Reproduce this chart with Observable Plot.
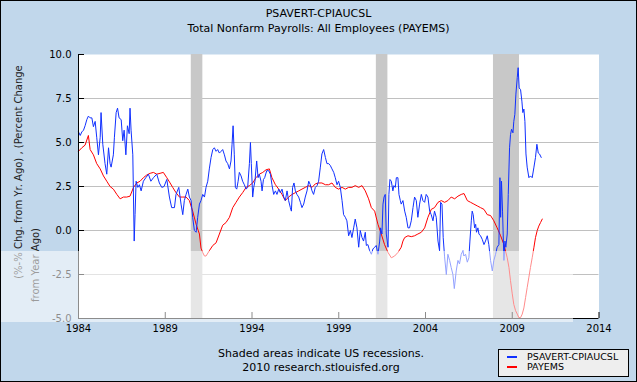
<!DOCTYPE html>
<html><head><meta charset="utf-8">
<script src="https://cdn.jsdelivr.net/npm/d3@7"></script>
<script src="https://cdn.jsdelivr.net/npm/@observablehq/plot@0.6"></script>
<style>
body{margin:0;background:#fff;}
#wrap{position:relative;width:637px;height:382px;background:#c1d7eb;overflow:hidden;font-family:"DejaVu Sans",Verdana,sans-serif;color:#000;}
#chart{position:absolute;left:0;top:0;}
.abs{position:absolute;white-space:nowrap;}
#title{left:0;top:6px;width:637px;text-align:center;font-size:11px;line-height:15px;}
#caption{left:121px;top:346.75px;width:400px;text-align:center;font-size:11px;line-height:14.5px;}
.ylab{font-size:10px;transform:translate(-50%,-50%) rotate(-90deg);color:#222;}
#legend{left:498px;top:349px;width:131px;height:28px;box-sizing:border-box;border:1px solid #000;background:#eeeeee;font-size:9.5px;}
.li{position:absolute;left:8px;height:10px;line-height:10px;}
.sw{display:inline-block;width:10px;height:2px;vertical-align:middle;margin-right:10px;position:relative;top:-1px;}
#wm{left:0;top:251px;width:573px;height:71px;background:rgba(255,255,255,0.55);}
#border{left:0;top:0;width:637px;height:382px;box-sizing:border-box;border:1px solid #000;}
</style></head>
<body>
<div id="wrap">
  <div id="chart"></div>
  <div class="abs" id="title">PSAVERT-CPIAUCSL<br>Total Nonfarm Payrolls: All Employees (PAYEMS)</div>
  <div class="abs ylab" style="left:17.5px;top:171.5px;">(%-% Chg. from Yr. Ago) , (Percent Change</div>
  <div class="abs ylab" style="left:34.5px;top:264.5px;">from Year Ago)</div>
  <div class="abs" id="caption">Shaded areas indicate US recessions.<br>2010 research.stlouisfed.org</div>
  <div class="abs" id="legend">
    <div class="li" style="top:2px;"><span class="sw" style="background:#1030ff"></span>PSAVERT-CPIAUCSL</div>
    <div class="li" style="top:12px;"><span class="sw" style="background:#ff0000"></span>PAYEMS</div>
  </div>
  <div class="abs" id="wm"></div>
  <div class="abs" id="border"></div>
</div>
<script>
// Series names
const seriesNames = ["PSAVERT-CPIAUCSL", "PAYEMS"];
// Tick labels
const xTicks = [1984, 1989, 1994, 1999, 2004, 2009, 2014];
const yTicks = [-5, -2.5, 0, 2.5, 5, 7.5, 10];
const gridTicks = [-2.5, 0, 2.5, 5, 7.5];
// Recessions (start, end) in decimal years
const recStart = [1990.5, 2001.167, 2007.917];
const recEnd = [1991.167, 2001.833, 2009.417];

// PSAVERT-CPIAUCSL (blue)
const blueYears = [1984.00,1984.10,1984.19,1984.29,1984.38,1984.48,1984.57,1984.67,1984.77,1984.86,1984.96,1985.05,1985.15,1985.25,1985.30,1985.40,1985.53,1985.63,1985.73,1985.82,1985.88,1986.01,1986.07,1986.17,1986.25,1986.34,1986.46,1986.55,1986.63,1986.73,1986.82,1986.92,1986.97,1987.03,1987.13,1987.21,1987.26,1987.32,1987.42,1987.51,1987.61,1987.74,1987.88,1988.03,1988.17,1988.32,1988.51,1988.66,1988.80,1988.93,1989.09,1989.24,1989.37,
1989.53,1989.62,1989.78,1989.91,1990.01,1990.10,1990.20,1990.30,1990.39,1990.49,1990.58,1990.68,1990.78,1990.87,1990.97,1991.06,1991.16,1991.26,1991.35,1991.45,1991.54,1991.64,1991.74,1991.83,1991.93,1992.02,1992.12,1992.22,1992.31,1992.41,1992.50,1992.60,1992.70,1992.79,1992.85,1992.91,1992.98,1993.04,1993.12,1993.20,1993.27,1993.37,1993.46,1993.56,1993.66,1993.75,1993.85,1993.91,1993.96,1994.04,1994.10,1994.17,1994.27,1994.35,1994.42,1994.52,1994.58,1994.66,1994.73,1994.85,1994.96,
1995.06,1995.15,1995.25,1995.35,1995.44,1995.54,1995.63,1995.73,1995.83,1995.92,1996.02,1996.11,1996.21,1996.27,1996.34,1996.42,1996.50,1996.59,1996.69,1996.79,1996.88,1996.98,1997.07,1997.17,1997.27,1997.36,1997.46,1997.55,1997.65,1997.75,1997.84,1997.94,1998.03,1998.13,1998.23,1998.32,1998.42,1998.51,1998.61,1998.71,1998.80,1998.90,1998.99,1999.09,1999.19,1999.28,1999.38,1999.47,1999.57,1999.67,1999.76,1999.86,1999.95,2000.05,2000.15,2000.24,2000.34,2000.43,
2000.53,2000.59,2000.68,2000.78,2000.88,2000.97,2001.07,2001.16,2001.26,2001.36,2001.41,2001.49,2001.55,2001.61,2001.68,2001.74,2001.84,2001.89,2001.95,2002.03,2002.12,2002.18,2002.26,2002.32,2002.41,2002.47,2002.55,2002.60,2002.70,2002.80,2002.89,2002.99,2003.08,2003.18,2003.28,2003.37,2003.47,2003.56,2003.66,2003.76,2003.85,2003.95,2004.04,2004.14,2004.24,2004.33,2004.43,2004.52,2004.62,2004.72,2004.81,2004.87,2004.95,2005.02,2005.10,2005.20,2005.29,2005.39,2005.48,2005.58,2005.66,2005.77,2005.87,2005.96,
2006.06,2006.16,2006.21,2006.31,2006.41,2006.50,2006.56,2006.64,2006.69,2006.75,2006.83,2006.89,2006.94,2007.02,2007.08,2007.17,2007.27,2007.37,2007.46,2007.56,2007.65,2007.75,2007.85,2007.94,2008.04,2008.13,2008.23,2008.29,2008.33,2008.38,2008.44,2008.52,2008.58,2008.63,2008.71,2008.77,2008.845,2008.90,2008.96,2009.04,2009.09,2009.15,2009.21,2009.29,2009.34,2009.40,2009.48,2009.555,2009.61,2009.67,2009.73,2009.79,2009.86,2009.96,2010.05,2010.15,2010.25,2010.34,2010.42,2010.50,2010.57,2010.67];
const blueVals = [5.6,5.4,5.6,5.7,5.95,6.3,6.5,6.4,6.4,5.9,6.2,5.3,4.3,5.3,6.7,4.9,3.8,3.2,4.7,3.8,3.6,4.3,5.3,6.7,6.95,6.4,6.3,5.1,5.7,4.3,5.95,5.5,6.95,5.7,4.3,-0.6,0.9,2.8,2.45,2.6,2.25,2.8,3.0,3.2,2.8,3.0,3.2,2.7,2.45,2.5,2.9,1.9,1.3,
1.3,2.05,2.45,1.5,0.9,1.7,2.05,2.35,1.9,1.7,0.75,0.0,-0.1,0.75,1.5,1.7,2.05,1.9,2.45,2.8,3.5,4.15,4.6,4.7,4.5,4.6,4.4,4.5,4.6,4.3,3.95,3.8,3.5,3.95,4.9,5.95,4.3,2.45,2.35,2.8,3.3,3.1,2.8,2.6,2.35,2.45,3.8,5.0,3.8,1.9,2.45,2.8,3.95,3.0,3.2,2.8,2.25,2.9,3.0,3.4,3.4,
3.2,2.6,2.05,2.25,2.05,2.35,2.15,2.35,1.9,1.7,2.25,1.7,1.3,1.1,2.45,2.7,2.25,2.05,1.9,1.6,1.3,1.5,1.9,2.25,2.8,2.6,2.25,2.05,2.45,2.55,2.8,3.6,4.35,4.6,4.15,3.8,3.8,3.7,3.5,3.3,3.0,2.6,2.8,2.45,1.7,0.9,0.75,0.55,-0.3,0.0,-0.4,0.15,0.65,0.15,-0.95,0.0,-0.4,-0.6,
-0.1,-0.85,-0.8,-1.15,-1.35,-1.05,-0.95,-0.85,-1.35,-0.6,0.15,-0.2,1.5,1.9,2.05,-0.2,-0.95,2.05,2.9,2.8,2.25,2.55,2.45,3.0,3.0,2.05,1.7,1.5,1.7,1.1,0.75,0.15,0.15,0.55,1.3,1.9,1.7,0.75,1.5,2.05,1.7,1.6,2.05,1.9,1.1,0.9,0.55,1.1,0.75,-0.6,-1.15,1.6,1.5,-0.4,-1.5,-2.5,-1.35,-1.7,-2.1,-2.5,-3.3,-2.3,-1.7,-1.9,
-1.35,-1.15,-1.45,-1.35,-1.8,-1.55,-0.6,0.55,1.1,0.9,0.15,0.35,-0.1,0.15,-0.2,-0.3,-0.5,-0.8,-0.6,-0.3,-0.8,-1.7,-2.3,-1.7,-1.35,-0.95,-0.8,3.0,0.75,2.8,1.1,-1.7,-0.6,-0.95,-0.2,2.05,4.7,5.45,5.75,5.55,6.2,6.6,7.75,8.7,9.25,8.1,8.0,7.35,6.7,6.9,6.2,4.35,3.6,3.0,3.1,3.0,3.6,4.15,4.9,4.4,4.35,4.15];

// PAYEMS (red)
const redYears = [1984.00,1984.19,1984.38,1984.57,1984.67,1984.86,1985.05,1985.25,1985.44,1985.63,1985.82,1986.01,1986.21,1986.40,1986.59,1986.78,1986.97,1987.17,1987.36,1987.55,1987.74,1987.93,1988.13,1988.32,1988.51,1988.70,1988.89,1989.09,1989.28,
1989.43,1989.62,1989.82,1990.01,1990.20,1990.39,1990.58,1990.78,1990.97,1991.06,1991.16,1991.26,1991.35,1991.54,1991.74,1991.93,1992.12,1992.31,1992.50,1992.70,1992.89,1993.08,1993.27,1993.46,1993.66,1993.85,1994.04,1994.23,1994.42,1994.62,1994.81,1995.00,
1995.15,1995.35,1995.54,1995.73,1995.92,1996.11,1996.31,1996.50,1996.69,1996.88,1997.07,1997.27,1997.46,1997.65,1997.84,1998.03,1998.23,1998.42,1998.61,1998.80,1998.99,1999.19,1999.38,1999.57,1999.76,1999.95,2000.15,2000.34,2000.53,2000.72,
2000.88,2001.07,2001.26,2001.45,2001.64,2001.84,2002.03,2002.22,2002.41,2002.60,2002.70,2002.80,2002.99,2003.18,2003.37,2003.56,2003.76,2003.95,2004.14,2004.33,2004.52,2004.72,2004.91,2005.10,2005.29,2005.48,2005.68,2005.87,2006.06,2006.22,
2006.41,2006.60,2006.79,2006.98,2007.17,2007.37,2007.56,2007.75,2007.94,2008.13,2008.33,2008.52,2008.71,2008.81,2008.90,2009.00,2009.09,2009.19,2009.29,2009.38,2009.48,2009.575,2009.67,2009.77,2009.86,2009.96,2010.05,2010.15,2010.25,2010.34,2010.44,2010.53,2010.63,2010.73];
const redVals = [4.5,4.7,4.85,5.4,4.6,4.3,3.8,3.5,3.1,2.8,2.5,2.35,2.05,1.8,1.9,1.9,1.95,2.45,2.7,2.8,3.0,3.15,3.25,3.3,3.2,3.25,3.3,3.0,2.7,
2.45,2.15,1.9,1.9,1.9,1.7,1.1,0.35,-0.2,-1.0,-1.25,-1.45,-1.45,-1.15,-0.85,-0.7,-0.2,0.3,0.45,0.75,1.3,1.6,1.9,2.15,2.45,2.55,2.7,3.0,3.2,3.3,3.45,3.5,
3.0,2.6,2.35,2.05,1.7,1.9,2.05,2.15,2.25,2.35,2.45,2.55,2.45,2.65,2.7,2.7,2.6,2.6,2.7,2.45,2.35,2.45,2.35,2.45,2.45,2.55,2.45,2.55,2.25,1.8,
1.3,1.1,0.35,-0.2,-0.8,-1.25,-1.55,-1.45,-1.25,-0.95,-0.6,-0.4,-0.3,-0.35,-0.3,-0.2,-0.1,0.15,0.75,1.2,1.3,1.6,1.7,1.6,1.7,1.9,1.8,1.95,2.05,2.1,
1.7,1.6,1.5,1.4,1.3,1.2,0.9,0.85,0.55,0.15,-0.3,-0.8,-1.55,-2.1,-2.85,-3.6,-4.2,-4.55,-4.75,-4.95,-4.95,-4.75,-4.4,-3.8,-3.25,-2.65,-2.1,-1.55,-0.95,-0.4,0.0,0.25,0.45,0.65];

const blue = blueYears.map((x, i) => ({x, y: blueVals[i], s: seriesNames[0]}));
const red = redYears.map((x, i) => ({x, y: redVals[i], s: seriesNames[1]}));
const recessions = recStart.map((s, i) => ({start: s, end: recEnd[i]}));

const chart = Plot.plot({
  width: 637, height: 340,
  marginLeft: 78, marginRight: 38.5, marginTop: 54, marginBottom: 22,
  style: {fontFamily: "DejaVu Sans, Verdana, sans-serif", fontSize: "10px", color: "#000", background: "transparent", overflow: "visible"},
  x: {domain: [1984, 2014], label: null},
  y: {domain: [-5, 10], label: null},
  marks: [
    Plot.frame({fill: "white", stroke: null}),
    Plot.gridY(gridTicks, {stroke: "#c0c0c0", strokeOpacity: 1}),
    Plot.rect(recessions, {x1: "start", x2: "end", fill: "#c8c8c8"}),
    Plot.line(red, {x: "x", y: "y", stroke: "#ff0000", strokeWidth: 1}),
    Plot.line(blue, {x: "x", y: "y", stroke: "#1030ff", strokeWidth: 1}),
    Plot.ruleX([1984], {stroke: "#000"}),
    Plot.ruleY([-5], {stroke: "#000"}),
    Plot.axisX(xTicks, {tickSize: -6, fill: "none", label: null}),
    Plot.axisX(xTicks, {tickSize: 0, tickPadding: 6, stroke: "none", label: null, tickFormat: d => String(d)}),
    Plot.axisY(yTicks, {tickSize: -6, fill: "none", label: null}),
    Plot.axisY(yTicks, {tickSize: 0, tickPadding: 7, stroke: "none", label: null, tickFormat: d => d.toFixed(1)})
  ]
});
document.getElementById("chart").appendChild(chart);
</script>
</body></html>
